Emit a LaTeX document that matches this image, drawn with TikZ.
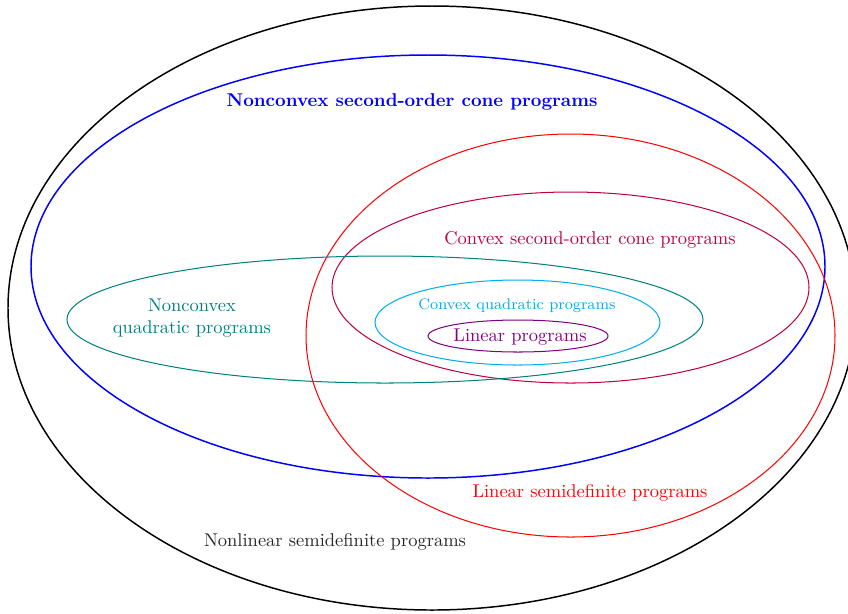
\documentclass[tikz,border=0pt]{standalone}
\usepackage{amsmath,amsfonts,amssymb}
\usepackage{tikz}
\usetikzlibrary{positioning}

\definecolor{cqpcyan}{RGB}{0,174,239}

\begin{document}
\begin{tikzpicture}[
  x=0.019cm, y=-0.019cm,
  set/.style={draw, line width=0.55pt},
  bigset/.style={draw, thick},
  lbl/.style={align=center, font=\normalsize}
]
  \useasboundingbox (0,0) rectangle (848,613);
  \clip (0,0) rectangle (848,613);

  % outer sets
  \draw[bigset, black] (432,308) ellipse [x radius=424, y radius=302];
  \draw[bigset, blue] (428,266.5) ellipse [x radius=397, y radius=211.5];
  \draw[set, red] (570.5,335.5) ellipse [x radius=264.5, y radius=201.5];

  % inner sets
  \draw[set, purple] (570.5,287.5) ellipse [x radius=238.5, y radius=95.5];
  \draw[set, teal] (385,319.5) ellipse [x radius=318, y radius=63.5];
  \draw[set, cqpcyan] (517.5,322.5) ellipse [x radius=142.5, y radius=42.5];
  \draw[set, violet] (518,336) ellipse [x radius=90, y radius=16];

  % labels
  \node[lbl, blue, font=\bfseries] (socp) at (412,102) {Nonconvex second-order cone programs};
  \node[lbl, purple] (csocp) at (590,240) {Convex second-order cone programs};
  \node[lbl, teal] (qp) at (192,318) {Nonconvex\\quadratic programs};
  \node[lbl, cqpcyan, font=\fontsize{8.3}{10}\selectfont] (cqp) at (517,306) {Convex quadratic programs};
  \node[lbl, violet] (lp) at (520,337) {Linear programs};
  \node[lbl, red] (sdp) at (590,493) {Linear semidefinite programs};
  \node[lbl, black!85] (nsdp) at (335,542) {Nonlinear semidefinite programs};
\end{tikzpicture}
\end{document}
